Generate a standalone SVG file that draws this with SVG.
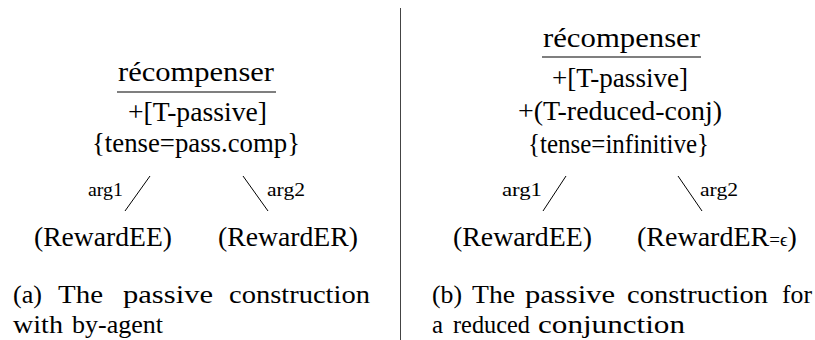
<svg xmlns="http://www.w3.org/2000/svg" width="815" height="340" viewBox="0 0 815 340">
<style>
text{font-family:"Liberation Serif","Times New Roman",serif;fill:#000}
.m{font-size:28px}
.s{font-size:19px}
.c{font-size:26px}
.e{stroke:#000;stroke-width:1;fill:none}
.rule{stroke:#000;stroke-width:1.2}
</style>
<rect width="815" height="340" fill="#fff"/>
<line x1="400.5" y1="8" x2="400.5" y2="340" stroke="#444" stroke-width="1"/>
<g id="panel-a">
<g id="a-root">
<text class="m" x="118" y="81" textLength="156" lengthAdjust="spacingAndGlyphs">récompenser</text>
<line class="rule" x1="117" y1="92" x2="276" y2="92"/>
<text class="m" x="128" y="121" textLength="139" lengthAdjust="spacingAndGlyphs">+[T-passive]</text>
<text class="m" x="92" y="152" textLength="208" lengthAdjust="spacingAndGlyphs">{tense=pass.comp}</text>
</g>
<g id="a-ee"><text class="m" x="34" y="246" textLength="138" lengthAdjust="spacingAndGlyphs">(RewardEE)</text></g>
<g id="a-er"><text class="m" x="218" y="246" textLength="140" lengthAdjust="spacingAndGlyphs">(RewardER)</text></g>
<g id="a-edges">
<line class="e" x1="150" y1="176" x2="125" y2="211"/>
<text class="s" x="88" y="196" textLength="35" lengthAdjust="spacingAndGlyphs">arg1</text>
<line class="e" x1="243" y1="176" x2="268" y2="211"/>
<text class="s" x="267" y="196" textLength="38" lengthAdjust="spacingAndGlyphs">arg2</text>
</g>
<g id="a-caption">
<text class="c" x="13" y="303" textLength="29" lengthAdjust="spacingAndGlyphs">(a)</text>
<text class="c" x="58" y="303" textLength="45" lengthAdjust="spacingAndGlyphs">The</text>
<text class="c" x="123" y="303" textLength="90" lengthAdjust="spacingAndGlyphs">passive</text>
<text class="c" x="229" y="303" textLength="141" lengthAdjust="spacingAndGlyphs">construction</text>
<text class="c" x="13" y="333" textLength="50" lengthAdjust="spacingAndGlyphs">with</text>
<text class="c" x="72" y="333" textLength="91" lengthAdjust="spacingAndGlyphs">by-agent</text>
</g>
</g>
<g id="panel-b">
<g id="b-root">
<text class="m" x="543" y="47" textLength="157" lengthAdjust="spacingAndGlyphs">récompenser</text>
<line class="rule" x1="542" y1="57" x2="701" y2="57"/>
<text class="m" x="552" y="87" textLength="136" lengthAdjust="spacingAndGlyphs">+[T-passive]</text>
<text class="m" x="518" y="120" textLength="204" lengthAdjust="spacingAndGlyphs">+(T-reduced-conj)</text>
<text class="m" x="528" y="153" textLength="181" lengthAdjust="spacingAndGlyphs">{tense=infinitive}</text>
</g>
<g id="b-ee"><text class="m" x="453" y="246" textLength="139" lengthAdjust="spacingAndGlyphs">(RewardEE)</text></g>
<g id="b-er">
<text class="m" x="637" y="246">(RewardER<tspan font-size="19">=ϵ</tspan>)</text>
</g>
<g id="b-edges">
<line class="e" x1="566" y1="176" x2="543" y2="211"/>
<text class="s" x="502" y="196" textLength="40" lengthAdjust="spacingAndGlyphs">arg1</text>
<line class="e" x1="678" y1="176" x2="702" y2="211"/>
<text class="s" x="700" y="196" textLength="38" lengthAdjust="spacingAndGlyphs">arg2</text>
</g>
<g id="b-caption">
<text class="c" x="432" y="303" textLength="30" lengthAdjust="spacingAndGlyphs">(b)</text>
<text class="c" x="472" y="303" textLength="43" lengthAdjust="spacingAndGlyphs">The</text>
<text class="c" x="525" y="303" textLength="90" lengthAdjust="spacingAndGlyphs">passive</text>
<text class="c" x="627" y="303" textLength="141" lengthAdjust="spacingAndGlyphs">construction</text>
<text class="c" x="782" y="303" textLength="30" lengthAdjust="spacingAndGlyphs">for</text>
<text class="c" x="432" y="333" textLength="11" lengthAdjust="spacingAndGlyphs">a</text>
<text class="c" x="453" y="333" textLength="77" lengthAdjust="spacingAndGlyphs">reduced</text>
<text class="c" x="538" y="333" textLength="147" lengthAdjust="spacingAndGlyphs">conjunction</text>
</g>
</g>
</svg>
